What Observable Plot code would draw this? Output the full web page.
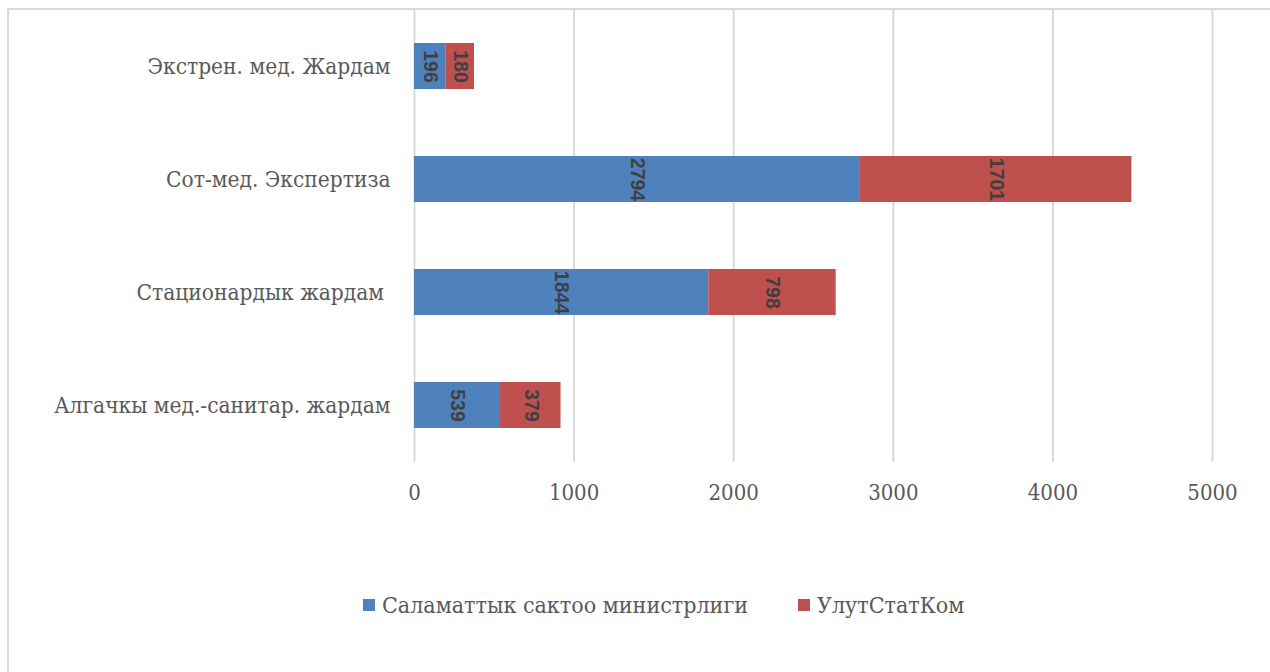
<!DOCTYPE html>
<html>
<head>
<meta charset="utf-8">
<script src="https://cdn.jsdelivr.net/npm/d3@7"></script>
<script src="https://cdn.jsdelivr.net/npm/@observablehq/plot@0.6"></script>
<style>
  html, body { margin: 0; padding: 0; background: #fff; width: 1270px; height: 672px; overflow: hidden; }
  #frame { position: absolute; left: 7px; top: 8px; width: 1400px; height: 800px; border-left: 2px solid #d9d9d9; border-top: 2px solid #d9d9d9; box-sizing: border-box; }
  #chart { position: absolute; left: 0; top: 0; }
  #legend { position: absolute; top: 592px; left: 0; width: 1270px; font-family: "DejaVu Serif Condensed", "DejaVu Serif", serif; font-size: 23px; color: #595959; }
  .item { position: absolute; top: 0; white-space: nowrap; }
  .sw { display: inline-block; width: 12px; height: 12px; margin-right: 7px; vertical-align: 2px; }
  #chart svg text { font-family: "DejaVu Serif Condensed", "DejaVu Serif", serif !important; }
  #chart svg g.lbl text { font-family: "Liberation Sans", "DejaVu Sans", sans-serif !important; }
</style>
</head>
<body>
<div id="frame"></div>
<div id="chart"></div>
<div id="legend"></div>
<script>
const categories = ["Экстрен. мед. Жардам", "Сот-мед. Экспертиза", "Стационардык жардам ", "Алгачкы мед.-санитар. жардам"];
const seriesNames = ["Саламаттык сактоо министрлиги", "УлутСтатКом"];
const ministryValues = [196, 2794, 1844, 539];
const statkomValues = [180, 1701, 798, 379];
const xTicks = [0, 1000, 2000, 3000, 4000, 5000];
const colors = ["#4F81BD", "#C0504D"];

const data = [];
categories.forEach((c, i) => {
  data.push({cat: c, series: seriesNames[0], value: ministryValues[i]});
  data.push({cat: c, series: seriesNames[1], value: statkomValues[i]});
});

const plot = Plot.plot({
  width: 1270,
  height: 530,
  marginLeft: 414,
  marginRight: 58,
  marginTop: 10,
  marginBottom: 68,
  style: {background: "transparent", color: "#595959"},
  x: {domain: [0, 5000], ticks: xTicks, grid: false},
  y: {domain: categories, paddingInner: 0.59, paddingOuter: 0.295},
  color: {domain: seriesNames, range: colors},
  marks: [
    Plot.ruleX(xTicks, {stroke: "#d9d9d9", strokeWidth: 2}),
    Plot.barX(data, Plot.stackX({x: "value", y: "cat", fill: "series", order: seriesNames})),
    Plot.text(data, Plot.stackX({x: "value", y: "cat", z: "series", order: seriesNames, text: d => String(d.value), rotate: 90,
      fill: "#404040", fontWeight: "bold", fontSize: 19.5, className: "lbl"})),
    Plot.axisX({ticks: xTicks, tickSize: 0, tickPadding: 22, fontSize: 22, label: null, tickFormat: d => String(d), color: "#595959"}),
    Plot.axisY({tickSize: 0, tickPadding: 24, fontSize: 22.5, label: null, color: "#595959"})
  ]
});
document.getElementById("chart").appendChild(plot);

const legend = document.getElementById("legend");
const lefts = [363, 798];
seriesNames.forEach((s, i) => {
  const it = document.createElement("div");
  it.className = "item";
  it.style.left = lefts[i] + "px";
  it.innerHTML = `<span class="sw" style="background:${colors[i]}"></span>${s}`;
  legend.appendChild(it);
});
</script>
</body>
</html>
